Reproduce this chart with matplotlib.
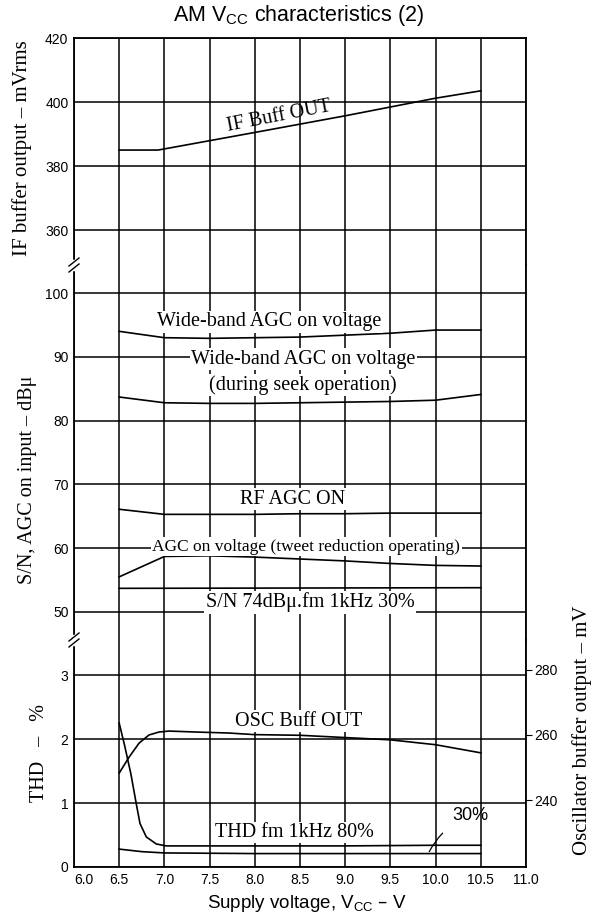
import matplotlib
matplotlib.use("Agg")
import matplotlib.pyplot as plt

SERIF = "Liberation Serif"
SANS = "Liberation Sans"

# ---------------- data ----------------
x_ticks = [6.0, 6.5, 7.0, 7.5, 8.0, 8.5, 9.0, 9.5, 10.0, 10.5, 11.0]

# IF buffer output (mVrms)
if_v = [6.5, 6.93, 8.0, 9.0, 10.0, 10.5]
if_out = [385.0, 385.0, 390.5, 395.7, 401.2, 403.5]

# AGC / S/N (dBu)
wb_v = [6.5, 7.0, 7.5, 8.0, 8.5, 9.0, 9.5, 10.0, 10.5]
wb_agc = [94.0, 93.0, 92.9, 93.0, 93.1, 93.4, 93.7, 94.2, 94.2]
seek_agc = [83.7, 82.8, 82.7, 82.7, 82.8, 82.9, 83.0, 83.2, 84.1]
rf_agc = [66.1, 65.3, 65.3, 65.3, 65.4, 65.4, 65.5, 65.5, 65.5]
tweet_agc = [55.5, 58.7, 58.8, 58.6, 58.3, 58.0, 57.6, 57.3, 57.2]
sn_v = [6.5, 10.5]
sn_74 = [53.7, 53.8]

# THD (%)
thd80_v = [6.5, 6.56, 6.63, 6.69, 6.73, 6.8, 6.91, 7.02, 8.0, 9.0, 10.0, 10.5]
thd80 = [2.25, 1.9, 1.45, 0.98, 0.68, 0.47, 0.36, 0.33, 0.33, 0.33, 0.34, 0.34]
thd30_v = [6.5, 6.75, 7.0, 8.0, 9.0, 9.9, 10.5]
thd30 = [0.28, 0.24, 0.22, 0.21, 0.21, 0.21, 0.21]

# Oscillator buffer output (mV)
osc_v = [6.5, 6.61, 6.72, 6.83, 6.94, 7.05, 7.35, 7.71, 8.0, 8.5, 9.0, 9.5, 10.0, 10.5]
osc_out = [248.3, 253.2, 257.5, 260.0, 260.9, 261.2, 260.9, 260.6, 260.1, 259.9,
           259.2, 258.5, 257.0, 254.5]

# ---------------- layout ----------------
W, H = 600, 917
fig = plt.figure(figsize=(6.0, 9.17), dpi=100)

L, R = 74, 526
def rect(top_px, bot_px):
    return [L / W, 1 - bot_px / H, (R - L) / W, (bot_px - top_px) / H]

ax_top = fig.add_axes(rect(38, 265))
ax_mid = fig.add_axes(rect(265, 640))
ax_bot = fig.add_axes(rect(640, 867))

lw_grid = 1.1
lw_curve = 1.2

for ax in (ax_top, ax_mid, ax_bot):
    ax.set_xlim(6.0, 11.0)
    ax.set_xticks(x_ticks)
    ax.grid(True, color="black", lw=lw_grid, zorder=1)
    ax.set_axisbelow(True)
    for s in ax.spines.values():
        s.set_linewidth(1.3)
    ax.tick_params(length=0, labelsize=10, pad=4)

ax_top.spines["bottom"].set_visible(False)
ax_mid.spines["top"].set_visible(False)
ax_mid.spines["bottom"].set_visible(False)
ax_bot.spines["top"].set_visible(False)
ax_top.tick_params(labelbottom=False)
ax_mid.tick_params(labelbottom=False)

ax_top.set_ylim(349.1, 420)
ax_top.set_yticks([360, 380, 400, 420])
ax_mid.set_ylim(45.6, 104.4)
ax_mid.set_yticks([50, 60, 70, 80, 90, 100])
ax_bot.set_ylim(0, 3.55)
ax_bot.set_yticks([0, 1, 2, 3])
ax_bot.set_xticklabels([f"{v:.1f}" for v in x_ticks])

for ax in (ax_top, ax_mid, ax_bot):
    for lab in ax.get_yticklabels() + ax.get_xticklabels():
        lab.set_fontfamily(SANS)
ax_bot.get_xticklabels()[0].set_horizontalalignment("left")

ax_r = ax_bot.twinx()
ax_r.set_ylim(219.4, 289.2)
ax_r.set_yticks([240, 260, 280])
ax_r.tick_params(axis="y", length=4, direction="out", labelsize=10, pad=2)
for lab in ax_r.get_yticklabels():
    lab.set_fontfamily(SANS)
for s in ax_r.spines.values():
    s.set_visible(False)

# ---------------- curves ----------------
ax_top.plot(if_v, if_out, color="black", lw=lw_curve, zorder=3)

ax_mid.plot(wb_v, wb_agc, color="black", lw=lw_curve, zorder=3)
ax_mid.plot(wb_v, seek_agc, color="black", lw=lw_curve, zorder=3)
ax_mid.plot(wb_v, rf_agc, color="black", lw=lw_curve, zorder=3)
ax_mid.plot(wb_v, tweet_agc, color="black", lw=lw_curve, zorder=3)
ax_mid.plot(sn_v, sn_74, color="black", lw=lw_curve, zorder=3)

ax_bot.plot(thd80_v, thd80, color="black", lw=lw_curve, zorder=3)
ax_bot.plot(thd30_v, thd30, color="black", lw=lw_curve, zorder=3)
ax_r.plot(osc_v, osc_out, color="black", lw=lw_curve, zorder=3)

# ---------------- labels on curves ----------------
bbox = dict(facecolor="white", edgecolor="none", pad=1.0)
FS = 14.5
ax_top.text(8.27, 395.4, "IF Buff OUT", family=SERIF, fontsize=FS, rotation=11,
            ha="center", va="center", zorder=5)
ax_mid.text(8.16, 95.5, "Wide-band AGC on voltage", family=SERIF, fontsize=FS,
            ha="center", va="center", bbox=bbox, zorder=5)
ax_mid.text(8.54, 89.6, "Wide-band AGC on voltage", family=SERIF, fontsize=FS,
            ha="center", va="center", bbox=bbox, zorder=5)
ax_mid.text(8.53, 85.6, "(during seek operation)", family=SERIF, fontsize=FS,
            ha="center", va="center", bbox=bbox, zorder=5)
ax_mid.text(8.42, 67.7, "RF AGC ON", family=SERIF, fontsize=FS,
            ha="center", va="center", bbox=bbox, zorder=5)
ax_mid.text(8.57, 60.2, "AGC on voltage (tweet reduction operating)", family=SERIF,
            fontsize=12.5, ha="center", va="center", bbox=bbox, zorder=5)
ax_mid.text(8.61, 51.5, "S/N 74dB\u03bc.fm 1kHz 30%", family=SERIF, fontsize=FS,
            ha="center", va="center", bbox=bbox, zorder=5)
ax_bot.text(8.48, 2.28, "OSC Buff OUT", family=SERIF, fontsize=FS,
            ha="center", va="center", bbox=bbox, zorder=5)
ax_bot.text(8.44, 0.54, "THD fm 1kHz 80%", family=SERIF, fontsize=FS,
            ha="center", va="center", bbox=bbox, zorder=5)
ax_bot.annotate("30%", xy=(9.93, 0.24), xytext=(10.39, 0.8), family=SANS, fontsize=13,
                ha="center", va="center", zorder=5,
                arrowprops=dict(arrowstyle="-", color="black", lw=0.9,
                                connectionstyle="arc3,rad=0.2", shrinkA=7, shrinkB=0))

# ---------------- axis break marks ----------------
for ypx in (265, 640):
    yf = 1 - ypx / H
    fig.add_artist(plt.Line2D([L / W, L / W], [yf - 4 / H, yf + 4 / H],
                              color="white", lw=2.5))
    for dy in (-3.0, 3.0):
        fig.add_artist(plt.Line2D([(L - 5) / W, (L + 5) / W],
                                  [yf + (dy - 4) / H, yf + (dy + 4) / H],
                                  color="black", lw=1.0))

# ---------------- titles ----------------
fig.text(0.497, 1 - 16 / H, "AM V$_{\\mathregular{CC}}$ characteristics (2)", family=SANS,
         fontsize=15.5, ha="center", va="center")
fig.text(0.512, 1 - 903 / H, "Supply voltage, V$_{\\mathregular{CC}}$ – V", family=SANS,
         fontsize=13.5, ha="center", va="center")
fig.text(22 / W, 1 - 148 / H, "IF buffer output – mVrms", family=SERIF, fontsize=15,
         rotation=90, ha="center", va="center")
fig.text(28 / W, 1 - 480 / H, "S/N, AGC on input – dB\u03bc", family=SERIF, fontsize=14.5,
         rotation=90, ha="center", va="center")
fig.text(40 / W, 1 - 753 / H, "THD   –   %", family=SERIF, fontsize=14.5,
         rotation=90, ha="center", va="center")
fig.text(582 / W, 1 - 730 / H, "Oscillator buffer output – mV", family=SERIF, fontsize=15,
         rotation=90, ha="center", va="center")

fig.savefig("out.png", dpi=100)
